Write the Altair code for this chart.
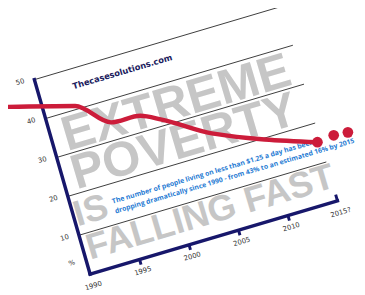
import altair as alt
import pandas as pd

# ---------------- data (year, % living on < $1.25/day) ----------------
line_years = [1986.1, 1993.1, 1996.0, 1998.9, 2000.8, 2005.1, 2014.7]
line_pct = [45.9, 40.9, 34.5, 34.0, 31.6, 24.8, 15.3]
dot_years = [2014.7, 2016.4, 2017.8]
dot_pct = [15.3, 15.8, 15.5]

grid_values = [10, 20, 30, 40, 50]
y_labels = ["50", "40", "30", "20", "10", "%"]
y_label_pos = [50, 40, 30, 20, 10, 3.5]
x_tick_years = [1995, 2000, 2005, 2010]
x_labels = ["1990", "1995", "2000", "2005", "2010", "2015?"]
x_label_years = [1990, 1995, 2000, 2005, 2010, 2015]
year_start, year_end = 1990, 2015

big_text = ["EXTREME", "POVERTY"]
big_text_year = [2002.6, 2002.3]
big_text_pct = [30.7, 21.0]
small_big_text = ["IS", "FALLING FAST"]
small_big_year = [1990.1, 1990.4]
small_big_pct = [12.2, 3.4]

note_lines = [
    "The number of people living on less than $1.25 a day has been",
    "dropping dramatically since 1990 - from 43% to an estimated 16%  by  2015",
]
note_year = [1994.0, 1994.0]
note_pct = [15.1, 12.6]
site_text, site_year, site_pct = "Thecasesolutions.com", 1993.4, 45.0

# ---------------- rotated (tilted) projection of the data grid ----------------
W, H = 357, 287
ANGLE = 343.5
X0, Y0 = 92, 277          # page position of (1990, 0%)
UX, UY = 10.12, -3.0      # page offset per year
VX, VY = -1.14, -3.98     # page offset per percentage point


def proj(year_field, pct_field, ox, oy):
    return {
        ox: f"{X0} + (datum.{year_field} - {year_start}) * {UX} + datum.{pct_field} * {VX}",
        oy: f"{Y0} + (datum.{year_field} - {year_start}) * {UY} + datum.{pct_field} * {VY}",
    }


xs = alt.Scale(domain=[8, 8 + W], nice=False, zero=False)
ys = alt.Scale(domain=[8, 8 + H], nice=False, zero=False, reverse=True)


def X(f):
    return alt.X(f"{f}:Q", scale=xs, axis=None)


def Y(f):
    return alt.Y(f"{f}:Q", scale=ys, axis=None)


# big grey headline
big_df = pd.DataFrame({"t": big_text, "yr": big_text_year, "p": big_text_pct})
big = alt.Chart(big_df).mark_text(
    angle=ANGLE, align="center", baseline="alphabetic", font="Liberation Sans",
    fontWeight="bold", fontSize=50, color="#c6c6c6"
).transform_calculate(**proj("yr", "p", "sx", "sy")).encode(x=X("sx"), y=Y("sy"), text="t:N")

small_df = pd.DataFrame({"t": small_big_text, "yr": small_big_year, "p": small_big_pct})
small_big = alt.Chart(small_df).mark_text(
    angle=ANGLE, align="left", baseline="alphabetic", font="Liberation Sans",
    fontWeight="bold", fontSize=37, color="#c6c6c6"
).transform_calculate(**proj("yr", "p", "sx", "sy")).encode(x=X("sx"), y=Y("sy"), text="t:N")

# gridlines
grid_df = pd.DataFrame({"p": grid_values, "y0": year_start, "y1": year_end})
grid = alt.Chart(grid_df).mark_rule(color="#3a3a3a", strokeWidth=1).transform_calculate(
    **proj("y0", "p", "ax", "ay"), **proj("y1", "p", "bx", "by")
).encode(x=X("ax"), y=Y("ay"), x2="bx:Q", y2="by:Q")

# axes
axes_df = pd.DataFrame({"ya": [year_start, year_start], "pa": [0, 0],
                        "yb": [year_start, year_end], "pb": [50, 0]})
axes = alt.Chart(axes_df).mark_rule(color="#17176b", strokeWidth=3.5, strokeCap="square").transform_calculate(
    **proj("ya", "pa", "ax", "ay"), **proj("yb", "pb", "bx", "by")
).encode(x=X("ax"), y=Y("ay"), x2="bx:Q", y2="by:Q")

tick_df = pd.DataFrame({"yr": x_tick_years + [year_end],
                        "p0": [0] * len(x_tick_years) + [0],
                        "p1": [-1.3] * len(x_tick_years) + [1.6]})
ticks = alt.Chart(tick_df).mark_rule(color="#17176b", strokeWidth=3).transform_calculate(
    **proj("yr", "p0", "ax", "ay"), **proj("yr", "p1", "bx", "by")
).encode(x=X("ax"), y=Y("ay"), x2="bx:Q", y2="by:Q")

# axis labels
ylab_df = pd.DataFrame({"t": y_labels, "p": [v + 0.4 for v in y_label_pos], "yr": 1988.6})
ylab = alt.Chart(ylab_df).mark_text(
    angle=ANGLE, align="center", baseline="middle", font="DejaVu Sans",
    fontSize=7, color="#333333"
).transform_calculate(**proj("yr", "p", "sx", "sy")).encode(x=X("sx"), y=Y("sy"), text="t:N")

xlab_df = pd.DataFrame({"t": x_labels, "yr": x_label_years, "p": -3.0})
xlab = alt.Chart(xlab_df).mark_text(
    angle=ANGLE, align="center", baseline="middle", font="DejaVu Sans",
    fontSize=7, color="#333333"
).transform_calculate(**proj("yr", "p", "sx", "sy")).encode(x=X("sx"), y=Y("sy"), text="t:N")

# notes
note_df = pd.DataFrame({"t": note_lines, "yr": note_year, "p": note_pct})
note = alt.Chart(note_df).mark_text(
    angle=ANGLE, align="left", baseline="alphabetic", font="Open Sans",
    fontWeight="bold", fontSize=7, color="#1f7bd3"
).transform_calculate(**proj("yr", "p", "sx", "sy")).encode(x=X("sx"), y=Y("sy"), text="t:N")

site_df = pd.DataFrame({"t": [site_text], "yr": [site_year], "p": [site_pct]})
site = alt.Chart(site_df).mark_text(
    angle=ANGLE, align="left", baseline="alphabetic", font="DejaVu Sans",
    fontWeight="bold", fontSize=8.5, color="#1c1c5e"
).transform_calculate(**proj("yr", "p", "sx", "sy")).encode(x=X("sx"), y=Y("sy"), text="t:N")

# red trend line and dots
line_df = pd.DataFrame({"yr": line_years, "p": line_pct, "o": range(len(line_years))})
line = alt.Chart(line_df).mark_line(
    color="#cc1c3a", strokeWidth=4.5, interpolate="monotone", strokeCap="round"
).transform_calculate(**proj("yr", "p", "sx", "sy")).encode(x=X("sx"), y=Y("sy"), order="o:O")

dot_df = pd.DataFrame({"yr": dot_years, "p": dot_pct})
dots = alt.Chart(dot_df).mark_circle(color="#cc1c3a", size=120, opacity=1).transform_calculate(
    **proj("yr", "p", "sx", "sy")).encode(x=X("sx"), y=Y("sy"))

chart = alt.layer(big, small_big, grid, axes, ticks, ylab, xlab, note, site, line, dots).properties(
    width=W, height=H, padding=0, background="white",
    autosize=alt.AutoSizeParams(type="none")
).configure_view(stroke=None)

chart.save("out.html", embed_options={"renderer": "svg", "actions": False})
